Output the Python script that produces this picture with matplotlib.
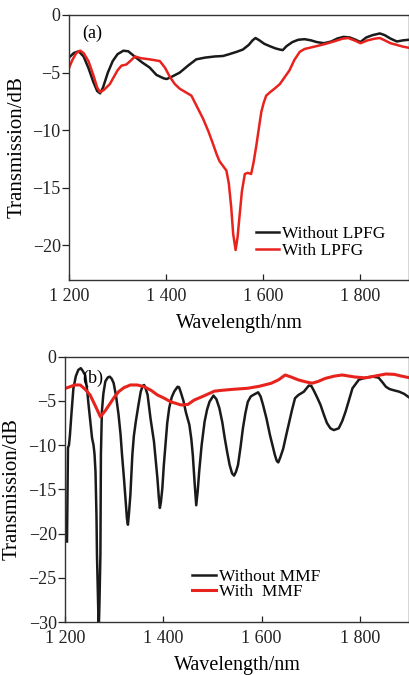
import matplotlib
matplotlib.use("Agg")
import matplotlib.pyplot as plt

# -----------------------------------
# Data
# -----------------------------------

# (a) without / with LPFG
wl_a_black = [1200, 1210, 1220, 1230, 1240, 1250, 1258, 1264, 1270, 1280,
              1290, 1300, 1312, 1322, 1335, 1350, 1366, 1380, 1395, 1401,
              1412, 1428, 1445, 1462, 1480, 1500, 1517, 1530, 1545, 1558,
              1570, 1578, 1584, 1592, 1602, 1613, 1625, 1634, 1640, 1648,
              1660, 1672, 1685, 1698, 1710, 1725, 1740, 1752, 1765, 1778,
              1790, 1800, 1812, 1825, 1840, 1850, 1862, 1875, 1888, 1900]
db_a_black = [-3.7, -3.3, -3.15, -3.6, -4.6, -5.8, -6.6, -6.8, -6.3, -5.0,
              -4.0, -3.4, -3.1, -3.15, -3.6, -4.1, -4.56, -5.2, -5.5, -5.56,
              -5.35, -5.0, -4.4, -3.85, -3.7, -3.6, -3.56, -3.4, -3.2, -3.0,
              -2.6, -2.2, -2.0, -2.2, -2.5, -2.7, -2.9, -3.0, -3.05, -2.7,
              -2.35, -2.15, -2.1, -2.2, -2.35, -2.45, -2.3, -2.05, -1.9, -1.95,
              -2.15, -2.35, -1.95, -1.75, -1.6, -1.75, -2.05, -2.3, -2.2, -2.15]

wl_a_red = [1200, 1207, 1215, 1223, 1230, 1240, 1250, 1258, 1264, 1272,
            1284, 1292, 1300, 1308, 1318, 1326, 1336, 1348, 1366, 1387,
            1398, 1408, 1418, 1428, 1440, 1452, 1464, 1476, 1487, 1497,
            1504, 1510, 1517, 1524, 1529, 1534, 1538, 1543, 1547, 1551,
            1556, 1562, 1568, 1575, 1580, 1586, 1591, 1596, 1601, 1606,
            1614, 1623, 1634, 1644, 1654, 1664, 1675, 1685, 1695, 1710,
            1729, 1745, 1764, 1775, 1790, 1800, 1815, 1830, 1840, 1850,
            1862, 1875, 1888, 1900]
db_a_red = [-4.6, -3.9, -3.3, -3.1, -3.3, -4.0, -5.2, -6.3, -6.7, -6.5,
            -6.0, -5.4, -4.8, -4.4, -4.3, -4.0, -3.6, -3.75, -3.85, -4.0,
            -4.6, -5.4, -6.0, -6.4, -6.7, -7.0, -8.0, -9.0, -10.1, -11.25,
            -12.1, -12.7, -13.1, -13.5, -14.6, -16.7, -19.0, -20.4, -19.3, -17.5,
            -15.3, -13.8, -13.7, -13.8, -12.8, -11.25, -9.8, -8.4, -7.6, -7.0,
            -6.7, -6.4, -6.0, -5.4, -4.8, -3.9, -3.2, -2.95, -2.85, -2.7,
            -2.5, -2.3, -2.05, -2.0, -2.25, -2.45, -2.2, -2.05, -2.0, -2.2,
            -2.45, -2.6, -2.75, -2.85]

# (b) without / with MMF
wl_b_black = [1204, 1205, 1206, 1208, 1210, 1213, 1217, 1222, 1227, 1232,
              1236, 1241, 1245, 1248, 1252, 1255, 1258, 1260, 1262, 1264,
              1265, 1267, 1268.6, 1270, 1272, 1273, 1275, 1278, 1282, 1287,
              1291, 1295, 1299, 1304, 1309, 1313, 1316, 1320, 1323, 1326,
              1328, 1330, 1333, 1337, 1340, 1344, 1349, 1354, 1358, 1361,
              1364, 1368, 1374, 1381, 1385, 1388, 1391, 1393, 1395, 1398,
              1401, 1405, 1408, 1412, 1417, 1422, 1429, 1432, 1436, 1441,
              1446, 1453, 1457, 1460, 1464, 1467, 1470, 1473, 1478, 1484,
              1489, 1494, 1502, 1508, 1514, 1520, 1525, 1530, 1535, 1540,
              1544, 1548, 1552, 1557, 1562, 1567, 1572, 1578, 1583, 1593,
              1598, 1603, 1610, 1617, 1622, 1627, 1631, 1634, 1638, 1644,
              1650, 1658, 1662, 1668, 1675, 1686, 1696, 1701, 1706, 1713,
              1720, 1727, 1733, 1740, 1747, 1757, 1764, 1771, 1778, 1785,
              1798, 1812, 1826, 1838, 1846, 1853, 1860, 1867, 1880, 1890,
              1900]
db_b_black = [-20.9, -15.0, -10.3, -10.0, -8.85, -6.5, -3.6, -2.2, -1.5, -1.3,
              -1.6, -2.1, -3.8, -5.5, -7.6, -9.2, -10.0, -11.0, -13.0, -18.0,
              -22.4, -27.0, -31.0, -28.0, -22.4, -11.1, -6.2, -4.2, -2.8, -2.35,
              -2.26, -2.5, -3.0, -4.5, -6.6, -8.8, -11.1, -13.8, -16.0, -18.3,
              -19.0, -17.8, -15.6, -11.1, -9.0, -7.35, -5.6, -3.96, -3.3, -3.2,
              -3.6, -4.3, -7.0, -9.6, -12.0, -13.75, -16.0, -17.1, -16.5, -14.9,
              -12.3, -9.6, -7.5, -5.8, -4.6, -3.96, -3.4, -3.45, -4.1, -5.0,
              -6.3, -7.7, -9.3, -11.1, -14.5, -16.8, -15.2, -13.0, -10.0, -7.35,
              -6.0, -5.1, -4.4, -4.8, -5.8, -7.4, -9.2, -10.8, -12.25, -13.2,
              -13.45, -13.0, -12.25, -10.3, -8.1, -6.4, -5.1, -4.5, -4.33, -4.03,
              -4.5, -5.46, -7.0, -8.85, -10.0, -11.1, -11.8, -11.95, -11.4, -10.4,
              -8.9, -7.0, -6.0, -4.7, -4.33, -3.96, -3.27, -3.3, -3.8, -4.6,
              -5.46, -6.6, -7.5, -8.1, -8.3, -8.1, -7.3, -6.2, -4.9, -3.57,
              -2.6, -2.37, -2.26, -2.37, -2.9, -3.4, -3.65, -3.77, -3.96, -4.2,
              -4.6]

wl_b_red = [1200, 1210, 1220, 1231, 1241, 1251, 1262, 1272, 1282, 1292,
            1300, 1309, 1320, 1333, 1347, 1361, 1375, 1388, 1402, 1415,
            1436, 1450, 1463, 1480, 1492, 1504, 1520, 1540, 1572, 1595,
            1620, 1635, 1648, 1660, 1675, 1690, 1703, 1715, 1730, 1748,
            1764, 1790, 1811, 1830, 1853, 1870, 1885, 1900]
db_b_red = [-3.6, -3.4, -3.2, -3.2, -3.7, -4.33, -5.6, -6.8, -6.1, -5.27,
            -4.6, -3.96, -3.5, -3.2, -3.2, -3.4, -3.8, -4.33, -4.7, -5.1,
            -5.46, -5.4, -4.9, -4.5, -4.2, -3.9, -3.8, -3.7, -3.57, -3.35,
            -3.0, -2.6, -2.07, -2.3, -2.63, -2.85, -3.0, -2.8, -2.45, -2.2,
            -2.07, -2.3, -2.4, -2.2, -1.96, -2.0, -2.2, -2.37]

x_ticks = [1200, 1400, 1600, 1800]
x_tick_labels = ["1 200", "1 400", "1 600", "1 800"]
y_ticks_a = [0, -5, -10, -15, -20]
y_ticks_b = [0, -5, -10, -15, -20, -25, -30]

# -----------------------------------
# Figure
# -----------------------------------

plt.rcParams["font.family"] = ["Liberation Serif", "DejaVu Serif"]
plt.rcParams["axes.unicode_minus"] = True

black = "#1a1a1a"
red = "#e8231e"

fig = plt.figure(figsize=(4.09, 6.75), dpi=100)

ax_a = fig.add_axes([0.1687, 0.5852, 0.8313, 0.3926])
ax_b = fig.add_axes([0.159, 0.0785, 0.841, 0.3931])


def style_axes(ax, yticks, ylim):
    ax.set_xlim(1200, 1900)
    ax.set_ylim(*ylim)
    ax.set_xticks(x_ticks)
    ax.set_xticklabels(x_tick_labels)
    ax.set_yticks(yticks)
    ax.set_yticklabels([("\u2212" + str(-v)) if v < 0 else str(v) for v in yticks])
    ax.tick_params(axis="x", direction="in", length=4, width=0.9,
                   labelsize=13, pad=6, colors="#222222")
    ax.tick_params(axis="y", direction="out", length=5, width=0.9,
                   labelsize=13, pad=1, colors="#222222")
    for s in ax.spines.values():
        s.set_linewidth(1.0)
        s.set_color("#333333")


# -----------------------------------
# Panel (a)
# -----------------------------------

ax_a.plot(wl_a_black, db_a_black, color=black, lw=1.8, label="Without LPFG")
ax_a.plot(wl_a_red, db_a_red, color=red, lw=1.8, label="With LPFG")
style_axes(ax_a, y_ticks_a, (-23, 0))
ax_a.set_ylabel("Transmission/dB", fontsize=15)
ax_a.yaxis.set_label_coords(-0.1235, 0.5)
ax_a.set_xlabel("Wavelength/nm", fontsize=14.5, va="top")
ax_a.xaxis.set_label_coords(0.5, -0.13)
ax_a.text(0.04, 0.93, "(a)", transform=ax_a.transAxes, fontsize=13,
          ha="left", va="center")
ax_a.legend(loc="center left", bbox_to_anchor=(0.55, 0.143), frameon=False,
            fontsize=12.5, handlelength=1.35, handletextpad=0.15,
            labelspacing=0.05, borderpad=0, borderaxespad=0)

# -----------------------------------
# Panel (b)
# -----------------------------------

ax_b.plot(wl_b_black, db_b_black, color=black, lw=1.8, label="Without MMF")
ax_b.plot(wl_b_red, db_b_red, color=red, lw=2.2, label="With  MMF")
style_axes(ax_b, y_ticks_b, (-30, 0))
ax_b.set_ylabel("Transmission/dB", fontsize=15)
ax_b.yaxis.set_label_coords(-0.125, 0.5)
ax_b.set_xlabel("Wavelength/nm", fontsize=14.5, va="top")
ax_b.xaxis.set_label_coords(0.5, -0.128)
ax_b.text(0.05, 0.92, "(b)", transform=ax_b.transAxes, fontsize=13,
          ha="left", va="center")
ax_b.legend(loc="center left", bbox_to_anchor=(0.37, 0.141), frameon=False,
            fontsize=12.5, handlelength=1.35, handletextpad=0.2,
            labelspacing=-0.1, borderpad=0, borderaxespad=0)

fig.savefig("out.png", dpi=100)
